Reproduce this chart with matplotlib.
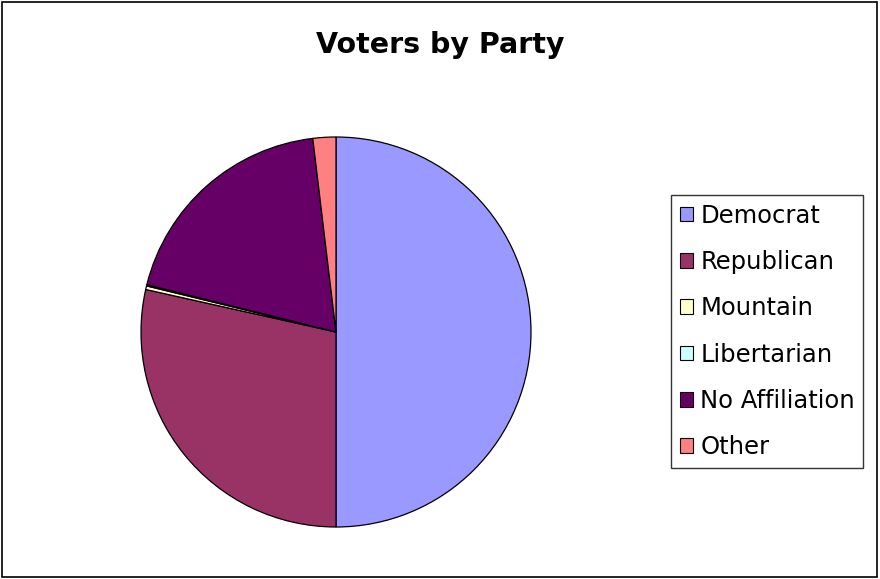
import matplotlib
matplotlib.use("Agg")
import matplotlib.pyplot as plt
from matplotlib.patches import Patch, Rectangle

# voter shares (percent)
parties = ["Democrat", "Republican", "Mountain", "Libertarian", "No Affiliation", "Other"]
shares = [50.0, 28.5, 0.3, 0.1, 19.2, 1.9]
colors = ["#9999FF", "#993366", "#FFFFCC", "#CCFFFF", "#660066", "#FF8080"]

fig = plt.figure(figsize=(8.8, 5.79), dpi=100)

# outer border of the chart area
fig.patches.append(Rectangle((0.002, 0.003), 0.995, 0.994, transform=fig.transFigure,
                             fill=False, edgecolor="black", linewidth=1.2))

fig.text(0.5, 1 - 45 / 579, "Voters by Party", ha="center", va="center",
         fontsize=20.5, fontweight="bold")

# pie axes: centre at (336, 332) px from top-left, radius 195 px
ax = fig.add_axes([(336 - 195) / 880, (579 - 332 - 195) / 579, 390 / 880, 390 / 579])
wedges, _ = ax.pie(shares, colors=colors, startangle=90, counterclock=False,
                   wedgeprops=dict(edgecolor="black", linewidth=0.9))
for w in wedges:
    w.set_clip_on(False)
ax.set_xlim(-1, 1)
ax.set_ylim(-1, 1)
ax.set_aspect("equal")
ax.axis("off")

handles = [Patch(facecolor=c, edgecolor="black", linewidth=0.8) for c in colors]
leg = fig.legend(handles, parties, loc="upper left",
                 bbox_to_anchor=(671 / 880, 1 - 195 / 579),
                 fontsize=17.5, frameon=True, fancybox=False, edgecolor="black",
                 handlelength=0.55, handleheight=0.55, handletextpad=0.3,
                 labelspacing=0.92, borderpad=0.35, borderaxespad=0)
leg.get_frame().set_linewidth(1.0)

fig.savefig("out.png", dpi=100)
